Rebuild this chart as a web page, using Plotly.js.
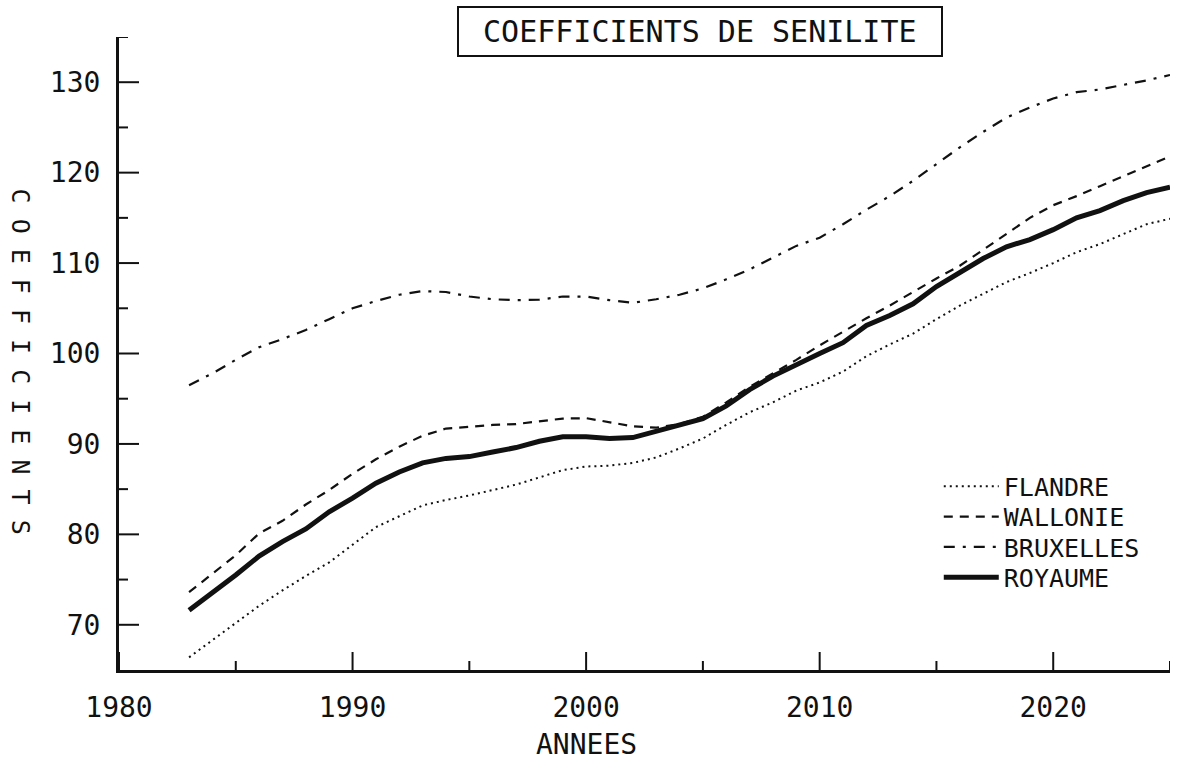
<!DOCTYPE html>
<html>
<head>
<meta charset="utf-8">
<script src="https://cdn.plot.ly/plotly-3.0.1.min.js"></script>
<style>
  html, body { margin: 0; padding: 0; background: #fff; }
  #chart { width: 1184px; height: 765px; }
</style>
</head>
<body>
<div id="chart"></div>
<script>
// ---- Data ----
const years = [1983,1984,1985,1986,1987,1988,1989,1990,1991,1992,1993,1994,1995,1996,1997,1998,1999,2000,
               2001,2002,2003,2004,2005,2006,2007,2008,2009,2010,2011,2012,2013,2014,2015,2016,2017,2018,2019,
               2020,2021,2022,2023,2024,2025];

const flandre = [66.4,68.3,70.1,72.1,73.8,75.4,76.9,78.8,80.8,82.0,83.2,83.8,84.3,84.9,85.5,86.3,87.1,87.5,
                 87.6,87.9,88.5,89.5,90.6,92.1,93.5,94.6,95.9,96.8,98.0,99.7,101.0,102.2,103.8,105.3,106.6,107.9,108.9,
                 110.0,111.2,112.1,113.2,114.3,114.9];

const wallonie = [73.6,75.6,77.7,80.1,81.5,83.3,84.9,86.7,88.3,89.7,90.9,91.7,91.9,92.1,92.2,92.5,92.8,92.85,
                  92.4,91.95,91.8,92.2,93.0,94.6,96.3,97.8,99.3,100.9,102.4,103.9,105.3,106.8,108.3,109.7,111.5,113.3,115.0,
                  116.4,117.4,118.5,119.6,120.7,121.8];

const bruxelles = [96.5,97.8,99.3,100.7,101.6,102.6,103.8,105.0,105.8,106.5,106.9,106.8,106.3,106.0,105.9,105.95,106.3,106.3,
                   105.9,105.6,106.0,106.5,107.2,108.2,109.3,110.6,111.9,112.8,114.3,115.9,117.4,119.1,121.0,122.8,124.5,126.1,127.2,
                   128.2,128.9,129.2,129.7,130.2,130.8];

const royaume = [71.6,73.5,75.5,77.6,79.2,80.6,82.5,84.0,85.65,86.9,87.9,88.4,88.6,89.1,89.6,90.3,90.8,90.8,
                 90.6,90.7,91.4,92.2,92.8,94.2,96.0,97.5,98.8,100.0,101.2,103.1,104.2,105.5,107.4,108.9,110.5,111.8,112.6,
                 113.7,115.0,115.8,116.9,117.8,118.4];

const seriesNames = ["FLANDRE", "WALLONIE", "BRUXELLES", "ROYAUME"];
const chartTitle = "COEFFICIENTS DE SENILITE";
const yTitle = "COEFFICIENTS";
const xTitle = "ANNEES";

// tick positions
const xMajorTicks = [1980, 1990, 2000, 2010, 2020];
const xMinorTicks = [1985, 1995, 2005, 2015, 2025];
const yMajorTicks = [70, 80, 90, 100, 110, 120, 130];
const yMinorTicks = [75, 85, 95, 105, 115, 125, 135];

// ---- Chart ----
const FONT = "DejaVu Sans Mono, Liberation Mono, monospace";
const INK = "#111";

const traces = [
  {x: years, y: flandre,   name: seriesNames[0], legend: "legend",
   mode: "lines", line: {color: INK, width: 2, dash: "2px,4px"}},
  {x: years, y: wallonie,  name: seriesNames[1], legend: "legend2",
   mode: "lines", line: {color: INK, width: 2.2, dash: "9px,7px"}},
  {x: years, y: bruxelles, name: seriesNames[2], legend: "legend3",
   mode: "lines", line: {color: INK, width: 2.2, dash: "11px,8px,3px,8px"}},
  {x: years, y: royaume,   name: seriesNames[3], legend: "legend4",
   mode: "lines", line: {color: INK, width: 5}}
];

function legendAt(yPaper) {
  return {
    x: 0.78, xanchor: "left", y: yPaper, yanchor: "middle",
    font: {family: FONT, size: 25, color: INK},
    bgcolor: "rgba(0,0,0,0)", borderwidth: 0, itemwidth: 55
  };
}

// tick marks pointing into the plot, placed through the axes' own scales
function xTick(v, len) {
  return {type: "line", xref: "x", x0: v, x1: v, yref: "paper", ysizemode: "pixel", yanchor: 0,
          y0: 0, y1: len, line: {color: INK, width: 2}, layer: "above"};
}
function yTick(v, len) {
  return {type: "line", yref: "y", y0: v, y1: v, xref: "paper", xsizemode: "pixel", xanchor: 0,
          x0: 0, x1: len, line: {color: INK, width: 2}, layer: "above"};
}
const tickShapes = [].concat(
  xMajorTicks.map(v => xTick(v, 18)), xMinorTicks.map(v => xTick(v, 9)),
  yMajorTicks.map(v => yTick(v, 20)), yMinorTicks.map(v => yTick(v, 9))
);

const layout = {
  width: 1184, height: 765,
  margin: {l: 119, r: 14, t: 37, b: 95},
  paper_bgcolor: "#fff", plot_bgcolor: "#fff",
  font: {family: FONT, color: INK},
  showlegend: true,
  legend: legendAt(0.290),
  legend2: legendAt(0.242),
  legend3: legendAt(0.194),
  legend4: legendAt(0.146),
  xaxis: {
    range: [1980, 2025], showgrid: false, zeroline: false,
    showline: true, linecolor: INK, linewidth: 3,
    tickmode: "array", tickvals: xMajorTicks, ticktext: xMajorTicks.map(String), ticks: "",
    tickfont: {family: FONT, size: 28, color: INK},
    ticklabelstandoff: 10
  },
  yaxis: {
    range: [65, 135], showgrid: false, zeroline: false,
    showline: true, linecolor: INK, linewidth: 3,
    tickmode: "array", tickvals: yMajorTicks, ticktext: yMajorTicks.map(String), ticks: "",
    tickfont: {family: FONT, size: 28, color: INK},
    ticklabelstandoff: 10
  },
  shapes: tickShapes,
  annotations: [
    {text: "\u00a0" + chartTitle + "\u00a0", xref: "paper", yref: "paper", x: 0.553, y: 1.008,
     xanchor: "center", yanchor: "middle", showarrow: false,
     font: {family: FONT, size: 30, color: INK},
     bordercolor: INK, borderwidth: 2, borderpad: 6, bgcolor: "#fff"},
    {text: yTitle.split("").join(" "), xref: "paper", yref: "paper", x: -0.094, y: 0.487,
     xanchor: "center", yanchor: "middle", showarrow: false, textangle: 90,
     font: {family: FONT, size: 25, color: INK}},
    {text: xTitle, xref: "paper", yref: "paper", x: 0.445, y: -0.118,
     xanchor: "center", yanchor: "middle", showarrow: false,
     font: {family: FONT, size: 28, color: INK}}
  ]
};

Plotly.newPlot("chart", traces, layout, {displayModeBar: false, staticPlot: true});
</script>
</body>
</html>
